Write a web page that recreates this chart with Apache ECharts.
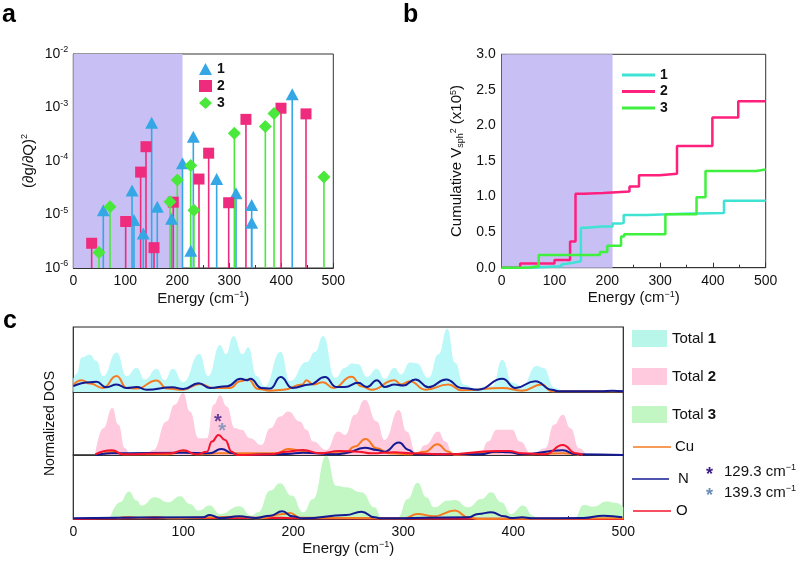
<!DOCTYPE html>
<html><head><meta charset="utf-8">
<script src="https://cdn.jsdelivr.net/npm/echarts@6/dist/echarts.min.js"></script>
<style>html,body{margin:0;padding:0;background:#fff}#c{width:800px;height:571px}</style>
</head><body><div id="c"></div>
<script>
// ---------- Panel a : (dg/dQ)^2 stems ----------
const stem1 = [[57.7,1.2e-5],[113,2.8e-5],[116.7,7.9e-6],[134.6,4.4e-6],[150.7,5.2e-4],[161.5,1.4e-5],[189,8.3e-6],[210,9.1e-5],[226,2.1e-6],[230.8,2.85e-4],[275.7,4.6e-5],[312.9,2.5e-5],[343,1.5e-5],[343,7e-6],[421,1.76e-3]];
const stem2 = [[35.3,2.9e-6],[100.7,7.4e-6],[129.5,6.2e-5],[139.8,1.85e-4],[155.2,2.4e-6],[192.3,1.7e-5],[241.7,4.6e-5],[260.3,1.4e-4],[298.8,1.66e-5],[332,6.0e-4],[399.4,9.7e-4],[447.5,7.6e-4]];
const stem3 = [[49.4,1.95e-6],[70.6,1.4e-5],[186,1.74e-5],[200,4.4e-5],[225.7,8.2e-5],[232,1.2e-5],[309.7,3.3e-4],[369.3,4.4e-4],[386,7.7e-4],[482,5.0e-5]];
const shadeEnd = 210;
const yMinA = 1e-6, yMaxA = 1e-2;

// ---------- Panel b : cumulative V_sph^2 ----------
const cum1 = [[0,0],[57,0.02],[113,0.05],[117,0.07],[135,0.09],[150,0.56],[161,0.58],[189,0.58],[210,0.62],[226,0.63],[231,0.74],[276,0.75],[313,0.76],[343,0.77],[421,0.94],[500,0.94]];
const cum2 = [[0,0],[35,0.06],[100,0.11],[129.5,0.37],[139.8,1.04],[155,1.05],[192,1.07],[242,1.14],[260,1.30],[299,1.32],[332,1.71],[399,2.11],[448,2.34],[500,2.34]];
const cum3 = [[0,0],[49,0.02],[70,0.18],[186,0.22],[200,0.31],[226,0.44],[232,0.47],[310,0.75],[369,0.99],[386,1.36],[482,1.38],[500,1.38]];

// ---------- Panel c : normalized DOS ----------
const total1 = [[0,0.2],[3,0.28],[7.6,0.531],[15,0.573],[21,0.479],[27,0.245],[39.4,0.609],[48.5,0.245],[57.6,0.375],[65,0.193],[75.8,0.359],[83,0.182],[90.3,0.359],[100,0.151],[114.6,0.583],[122.7,0.245],[133.4,0.724],[138.8,0.583],[145.5,0.859],[154,0.583],[159,0.688],[166.7,0.245],[174,0.089],[188.5,0.62],[197,0.167],[212,0.46],[220,0.62],[227,0.86],[238,0.219],[247,0.375],[253,0.437],[259,0.427],[267,0.234],[276,0.359],[283,0.203],[292,0.375],[298,0.271],[306,0.453],[312,0.443],[323,0.219],[332,0.583],[340,0.974],[347,0.453],[355,0.115],[364,0.0625],[381,0.089],[390,0.495],[399,0.141],[408,0.089],[421,0.401],[427,0.375],[438,0.0625],[447,0.01],[460,0],[500,0]];
const cu1 = [[0,0.11],[7.6,0.182],[15,0.13],[27,0.0625],[39.4,0.245],[48.5,0.0625],[57.6,0.052],[75.8,0.177],[85,0.052],[100,0.036],[115,0.125],[127,0.0625],[142.5,0.0625],[151.6,0.167],[159,0.193],[168,0.047],[178.8,0.021],[191,0.036],[208,0.115],[212,0.182],[218,0.115],[227,0.151],[236.5,0.0625],[253,0.234],[262,0.089],[271,0.036],[292,0.182],[298,0.115],[306,0.167],[320,0.036],[341,0.115],[353,0.026],[390,0.0625],[408,0.021],[426,0.115],[435,0.01],[500,0.01]];
const n1 = [[0,0.089],[15,0.151],[21,0.156],[30,0.073],[39.4,0.115],[48.5,0.0625],[57.6,0.078],[66.7,0.036],[90,0.073],[100,0.047],[114,0.135],[124,0.0625],[140,0.089],[152,0.203],[158,0.182],[161,0.203],[171,0.0625],[179,0.052],[188.5,0.229],[199,0.0625],[215,0.115],[228.8,0.229],[239,0.078],[247,0.078],[259,0.141],[267,0.078],[276,0.182],[283,0.078],[292,0.115],[300,0.099],[311,0.193],[323,0.073],[339,0.193],[353,0.0625],[368,0.036],[390,0.203],[402,0.0625],[420,0.167],[435,0.036],[441,0.01],[480,0.01],[490,0.021],[500,0.01]];

const total2 = [[20,0.027],[27.3,0.426],[35.5,0.745],[41,0.479],[47,0.106],[51.5,0.01],[65,0.01],[72.7,0.08],[84.8,0.532],[92,0.798],[100,0.984],[106,0.691],[114,0.266],[121.5,0.266],[127.6,0.798],[133.4,0.947],[139.4,0.771],[147,0.426],[153,0.399],[160.6,0.266],[171,0.16],[179,0.426],[188,0.612],[195.5,0.691],[206,0.532],[212,0.4],[218,0.213],[230,0.08],[240.8,0.372],[247,0.319],[256,0.638],[265,0.878],[276,0.532],[283,0.239],[296,0.713],[303,0.372],[312,0.027],[320,0.16],[332,0.372],[338,0.213],[345.5,0.01],[370,0.01],[377,0.213],[385,0.399],[393,0.399],[399,0.399],[406,0.213],[417,0.01],[429,0.106],[437,0.479],[445,0.638],[452,0.426],[460,0.106],[466,0.01]];
const o2 = [[20,0.01],[35,0.074],[46,0.01],[88,0.027],[100,0.074],[112,0.01],[121.5,0.053],[126,0.213],[132,0.319],[138,0.239],[144,0.053],[148.5,0],[179,0.01],[194,0.053],[209,0.08],[224,0.027],[242,0.064],[259,0.053],[271,0.027],[292,0.043],[307,0.027],[338,0.01],[384,0.064],[396,0.064],[408,0.027],[429,0.01],[445,0.16],[457,0.027],[463,0]];
const n2 = [[20,0],[35,0.027],[100,0.037],[124,0.027],[134.6,0.096],[145,0.027],[150,0],[194,0.016],[209,0.037],[240,0.01],[247,0.027],[265,0.117],[276,0.08],[283,0.053],[296,0.197],[305,0.08],[311,0.01],[370,0.01],[384,0.053],[396,0.043],[408,0.01],[445,0.074],[457,0.01],[500,0]];
const cu2 = [[27,0.01],[35,0.053],[46,0.01],[85,0.01],[100,0.053],[112,0.01],[133,0.027],[185,0.027],[195.5,0.096],[209,0.064],[224,0.027],[247,0.027],[256,0.133],[265.6,0.255],[276,0.106],[287,0.027],[307,0.01],[320,0.053],[331,0.17],[341,0.053],[347,0],[384,0.043],[396,0.053],[408,0.01],[445,0.027],[460,0]];

const total3 = [[33.3,0.01],[42.4,0.262],[50.6,0.429],[57.6,0.288],[62,0.209],[74,0.34],[86.4,0.262],[97,0.356],[106,0.236],[114,0.131],[124,0.209],[133.4,0.079],[151,0.199],[162,0.052],[168,0.105],[179,0.445],[188,0.56],[198.5,0.366],[209,0.105],[218,0.314],[230,0.99],[239,0.52],[248,0.497],[262,0.419],[274,0.183],[280,0.026],[295,0.026],[304,0.314],[313,0.565],[321,0.34],[328,0.183],[341,0.288],[347,0.298],[359,0.183],[371,0.314],[380,0.419],[389,0.262],[398,0.079],[409,0.209],[418,0.052],[422,0.01],[455.5,0.01],[464,0.22],[473,0.194],[485,0.272],[494,0.251],[500,0.183]];
const n3 = [[0,0.01],[118,0.026],[124,0.063],[133,0.016],[151,0.042],[166,0.016],[179,0.052],[190,0.12],[199,0.042],[209,0.01],[248,0.063],[262,0.115],[274,0.026],[280,0.01],[359,0.026],[368,0.079],[380,0.105],[392,0.042],[398,0.016],[408,0.026],[417,0.01],[464,0.016],[482,0.052],[499,0.026]];
const cu3 = [[40,0.01],[50,0.031],[60,0.016],[74,0.031],[90,0.01],[124,0.026],[151,0.036],[170,0.01],[191,0.079],[197,0.094],[206,0.021],[301,0.01],[313,0.079],[328,0.042],[347,0.131],[359,0.026],[368,0],[500,0.01]];
const o3 = [[0,0],[50,0.01],[190,0.02],[200,0.01],[500,0]];

const starX = [131.5, 135.2];
const starY = [0.52, 0.375];
const starLabels = ['129.3', '139.3'];

const xTicks = {min:0, max:500, interval:100};

// ---------- styles ----------
const FONT = 'Liberation Sans, Arial, sans-serif';
const AX = '#333';
const C_A = ['#35a7e5', '#ee2b7c', '#4be83c'];
const C_B = ['#3fe3d3', '#ff1f7d', '#3ff03f'];
const FILL = ['#bdf8f8', '#ffc9de', '#c2f7c4'];
const CU = '#f57a22', NN = '#131a92', OO = '#f5142c';
const SHADE = '#c8c0f5';
const STAR = ['#3b1a86', '#6b8cb5'];

const chart = echarts.init(document.getElementById('c'), null, {renderer:'canvas'});

const supRich = {sup:{fontSize:9, padding:[0,0,8,0], fontFamily:FONT, color:'#111'}, sub:{fontSize:9, padding:[7,0,0,0], fontFamily:FONT, color:'#111'}};

function stemRender(color){
  return function(params, api){
    const x = api.value(0), y = api.value(1);
    const t = api.coord([x, y]);
    const b = api.coord([x, yMinA]);
    return {type:'line', shape:{x1:b[0], y1:b[1], x2:t[0], y2:t[1]}, style:{stroke:color, lineWidth:1.6}};
  };
}

function xAxisCommon(gi, showLabel, name){
  return {
    type:'value', gridIndex:gi, min:xTicks.min, max:xTicks.max, interval:xTicks.interval,
    axisLine:{show:true, onZero:false, lineStyle:{color:AX, width:1}},
    axisTick:{show:true, inside:true, length:5, lineStyle:{color:AX}},
    minorTick:{show:true, splitNumber:2, length:3, lineStyle:{color:AX}},
    axisLabel:{show:showLabel, fontSize:14, color:'#111', fontFamily:FONT, margin:6},
    splitLine:{show:false},
    name:name||'', nameLocation:'middle', nameGap:22,
    nameTextStyle:{fontSize:15, color:'#111', fontFamily:FONT, rich:supRich}
  };
}

const SM = 0.5;
const dosLine = (data, color, gi, z) => ({type:'line', data, xAxisIndex:gi, yAxisIndex:gi, smooth:SM, smoothMonotone:'x', symbol:'none', lineStyle:{color, width:2}, z:z||4, silent:true});
const dosFill = (data, color, gi) => ({type:'line', data, xAxisIndex:gi, yAxisIndex:gi, smooth:SM, smoothMonotone:'x', symbol:'none', lineStyle:{width:0, color}, itemStyle:{color}, areaStyle:{color, opacity:1}, z:2, silent:true});

const option = {
  animation:false,
  backgroundColor:'#fff',
  textStyle:{fontFamily:FONT},
  grid:[
    {left:73.3, top:54, width:260, height:214, show:true, borderColor:AX, borderWidth:1, backgroundColor:'transparent'},
    {left:501.7, top:54.3, width:264, height:213.4, show:true, borderColor:AX, borderWidth:1, backgroundColor:'transparent'},
    {left:73.3, top:327, width:550, height:65, show:true, borderColor:'#222', borderWidth:1.2, backgroundColor:'transparent'},
    {left:73.3, top:392, width:550, height:63, show:true, borderColor:'#222', borderWidth:1.2, backgroundColor:'transparent'},
    {left:73.3, top:455, width:550, height:64, show:true, borderColor:'#222', borderWidth:1.2, backgroundColor:'transparent'}
  ],
  xAxis:[
    xAxisCommon(0, true, 'Energy (cm{sup|\u22121})'),
    xAxisCommon(1, true, 'Energy (cm{sup|\u22121})'),
    Object.assign(xAxisCommon(2, false), {axisTick:{show:false}, minorTick:{show:false}}),
    Object.assign(xAxisCommon(3, false), {axisTick:{show:false}, minorTick:{show:false}}),
    Object.assign(xAxisCommon(4, true, 'Energy (cm{sup|\u22121})'), {nameGap:20})
  ],
  yAxis:[
    {type:'log', logBase:10, gridIndex:0, min:yMinA, max:yMaxA,
     axisLine:{show:true, lineStyle:{color:AX}}, axisTick:{show:true, inside:true, length:5, lineStyle:{color:AX}},
     splitLine:{show:false},
     axisLabel:{fontSize:14, color:'#111', fontFamily:FONT, margin:5, rich:supRich,
       formatter:v => '10{sup|' + Math.round(Math.log10(v)) + '}'},
     name:'(\u2202g/\u2202Q){sup|2}', nameLocation:'middle', nameGap:36, nameRotate:90,
     nameTextStyle:{fontSize:15, color:'#111', fontFamily:FONT, rich:supRich}},
    {type:'value', gridIndex:1, min:0, max:3, interval:0.5,
     axisLine:{show:true, lineStyle:{color:AX}}, axisTick:{show:true, inside:true, length:5, lineStyle:{color:AX}},
     minorTick:{show:false}, splitLine:{show:false},
     axisLabel:{fontSize:14, color:'#111', fontFamily:FONT, margin:6, formatter:v => v.toFixed(1)},
     name:'Cumulative V{sub|sph}{sup|2} (x10{sup|5})', nameLocation:'middle', nameGap:36, nameRotate:90,
     nameTextStyle:{fontSize:15, color:'#111', fontFamily:FONT, rich:supRich}},
    {type:'value', gridIndex:2, min:0, max:1, show:false},
    {type:'value', gridIndex:3, min:0, max:1, axisLine:{show:false}, axisTick:{show:false}, axisLabel:{show:false}, splitLine:{show:false},
     name:'Normalized DOS', nameLocation:'middle', nameGap:16, nameRotate:90, nameTextStyle:{fontSize:14, color:'#111', fontFamily:FONT}},
    {type:'value', gridIndex:4, min:0, max:1, show:false}
  ],
  legend:[
    {data:[{name:'1', icon:'triangle'}, {name:'2', icon:'rect'}, {name:'3', icon:'diamond'}],
     orient:'vertical', left:194, top:57, itemWidth:13, itemHeight:12, itemGap:3, selectedMode:false,
     textStyle:{fontWeight:'bold', fontSize:14, color:'#111', fontFamily:FONT}},
    {data:['b1', 'b2', 'b3'], formatter:n => n.slice(1),
     orient:'vertical', left:617, top:63, icon:'rect', itemWidth:33, itemHeight:3, itemGap:2.5, selectedMode:false,
     textStyle:{fontWeight:'bold', fontSize:14, color:'#111', fontFamily:FONT}}
  ],
  series:[
    {type:'line', name:'shadeA', xAxisIndex:0, yAxisIndex:0, data:[[0, yMinA]], symbol:'none', z:1, silent:true,
     markArea:{silent:true, itemStyle:{color:SHADE, opacity:1}, data:[[{xAxis:0}, {xAxis:shadeEnd}]]}},
    {type:'line', name:'shadeB', xAxisIndex:1, yAxisIndex:1, data:[[0, 0]], symbol:'none', z:1, silent:true,
     markArea:{silent:true, itemStyle:{color:SHADE, opacity:1}, data:[[{xAxis:0}, {xAxis:shadeEnd}]]}},
    {type:'custom', name:'s1', xAxisIndex:0, yAxisIndex:0, data:stem1, renderItem:stemRender(C_A[0]), encode:{x:0, y:1}, z:3, silent:true},
    {type:'custom', name:'s2', xAxisIndex:0, yAxisIndex:0, data:stem2, renderItem:stemRender(C_A[1]), encode:{x:0, y:1}, z:3, silent:true},
    {type:'custom', name:'s3', xAxisIndex:0, yAxisIndex:0, data:stem3, renderItem:stemRender(C_A[2]), encode:{x:0, y:1}, z:3, silent:true},
    {type:'scatter', name:'1', xAxisIndex:0, yAxisIndex:0, data:stem1, symbol:'triangle', symbolSize:[13, 12], itemStyle:{color:C_A[0], opacity:1}, z:5},
    {type:'scatter', name:'2', xAxisIndex:0, yAxisIndex:0, data:stem2, symbol:'rect', symbolSize:11, itemStyle:{color:C_A[1], opacity:1}, z:5},
    {type:'scatter', name:'3', xAxisIndex:0, yAxisIndex:0, data:stem3, symbol:'diamond', symbolSize:13, itemStyle:{color:C_A[2], opacity:1}, z:5},
    {type:'line', name:'b1', xAxisIndex:1, yAxisIndex:1, data:cum1, step:'end', symbol:'none', lineStyle:{color:C_B[0], width:2.5}, itemStyle:{color:C_B[0]}, z:4},
    {type:'line', name:'b2', xAxisIndex:1, yAxisIndex:1, data:cum2, step:'end', symbol:'none', lineStyle:{color:C_B[1], width:2.5}, itemStyle:{color:C_B[1]}, z:4},
    {type:'line', name:'b3', xAxisIndex:1, yAxisIndex:1, data:cum3, step:'end', symbol:'none', lineStyle:{color:C_B[2], width:2.5}, itemStyle:{color:C_B[2]}, z:4},
    dosFill(total1, FILL[0], 2), dosLine(cu1, CU, 2, 4), dosLine(n1, NN, 2, 5),
    dosFill(total2, FILL[1], 3), dosLine(cu2, CU, 3, 4), dosLine(n2, NN, 3, 5), dosLine(o2, OO, 3, 6),
    dosFill(total3, FILL[2], 4), dosLine(o3, OO, 4, 4), dosLine(cu3, CU, 4, 5), dosLine(n3, NN, 4, 6),
    {type:'scatter', name:'stars', xAxisIndex:3, yAxisIndex:3, symbolSize:0, z:8, silent:true,
     data:starX.map((x, i) => ({value:[x, starY[i]], label:{show:true, formatter:'*', fontSize:20, fontWeight:'bold', color:STAR[i], position:'inside', fontFamily:FONT}}))}
  ],
  graphic:[
    {type:'text', left:2, top:3, style:{text:'a', fontSize:25, fontWeight:'bold', fill:'#000', fontFamily:FONT}},
    {type:'text', left:403, top:3, style:{text:'b', fontSize:25, fontWeight:'bold', fill:'#000', fontFamily:FONT}},
    {type:'text', left:3, top:309, style:{text:'c', fontSize:25, fontWeight:'bold', fill:'#000', fontFamily:FONT}},
    {type:'text', left:93, top:83, style:{text:'T < 300K', fontSize:17, fontWeight:'bold', fill:'#111', fontFamily:FONT}},
    {type:'text', left:521, top:83, style:{text:'T < 300K', fontSize:17, fontWeight:'bold', fill:'#111', fontFamily:FONT}},
    {type:'rect', shape:{x:632, y:330, width:35, height:17}, style:{fill:'#b9f6ea'}},
    {type:'rect', shape:{x:632, y:368, width:35, height:17}, style:{fill:FILL[1]}},
    {type:'rect', shape:{x:632, y:406, width:35, height:17}, style:{fill:FILL[2]}},
    {type:'text', left:672, top:331, style:{text:'Total {b|1}', fontSize:15, fill:'#111', fontFamily:FONT, rich:{b:{fontWeight:'bold', fontSize:15, fontFamily:FONT}}}},
    {type:'text', left:672, top:369, style:{text:'Total {b|2}', fontSize:15, fill:'#111', fontFamily:FONT, rich:{b:{fontWeight:'bold', fontSize:15, fontFamily:FONT}}}},
    {type:'text', left:672, top:407, style:{text:'Total {b|3}', fontSize:15, fill:'#111', fontFamily:FONT, rich:{b:{fontWeight:'bold', fontSize:15, fontFamily:FONT}}}},
    {type:'line', shape:{x1:633, y1:447, x2:671, y2:447}, style:{stroke:CU, lineWidth:1.5}},
    {type:'line', shape:{x1:632, y1:479, x2:669, y2:479}, style:{stroke:NN, lineWidth:1.5}},
    {type:'line', shape:{x1:633, y1:511, x2:671, y2:511}, style:{stroke:OO, lineWidth:1.5}},
    {type:'text', left:675, top:439, style:{text:'Cu', fontSize:15, fill:'#111', fontFamily:FONT}},
    {type:'text', left:678, top:471, style:{text:'N', fontSize:15, fill:'#111', fontFamily:FONT}},
    {type:'text', left:676, top:503, style:{text:'O', fontSize:15, fill:'#111', fontFamily:FONT}},
    {type:'text', left:706, top:466, style:{text:'*', fontSize:18, fontWeight:'bold', fill:STAR[0], fontFamily:FONT}},
    {type:'text', left:706, top:487, style:{text:'*', fontSize:18, fontWeight:'bold', fill:STAR[1], fontFamily:FONT}},
    {type:'text', left:724, top:463, style:{text:starLabels[0] + ' cm{s|\u22121}', fontSize:15, fill:'#111', fontFamily:FONT, rich:{s:{fontSize:9, padding:[0,0,8,0], fontFamily:FONT}}}},
    {type:'text', left:724, top:484, style:{text:starLabels[1] + ' cm{s|\u22121}', fontSize:15, fill:'#111', fontFamily:FONT, rich:{s:{fontSize:9, padding:[0,0,8,0], fontFamily:FONT}}}}
  ]
};
chart.setOption(option);
</script></body></html>
